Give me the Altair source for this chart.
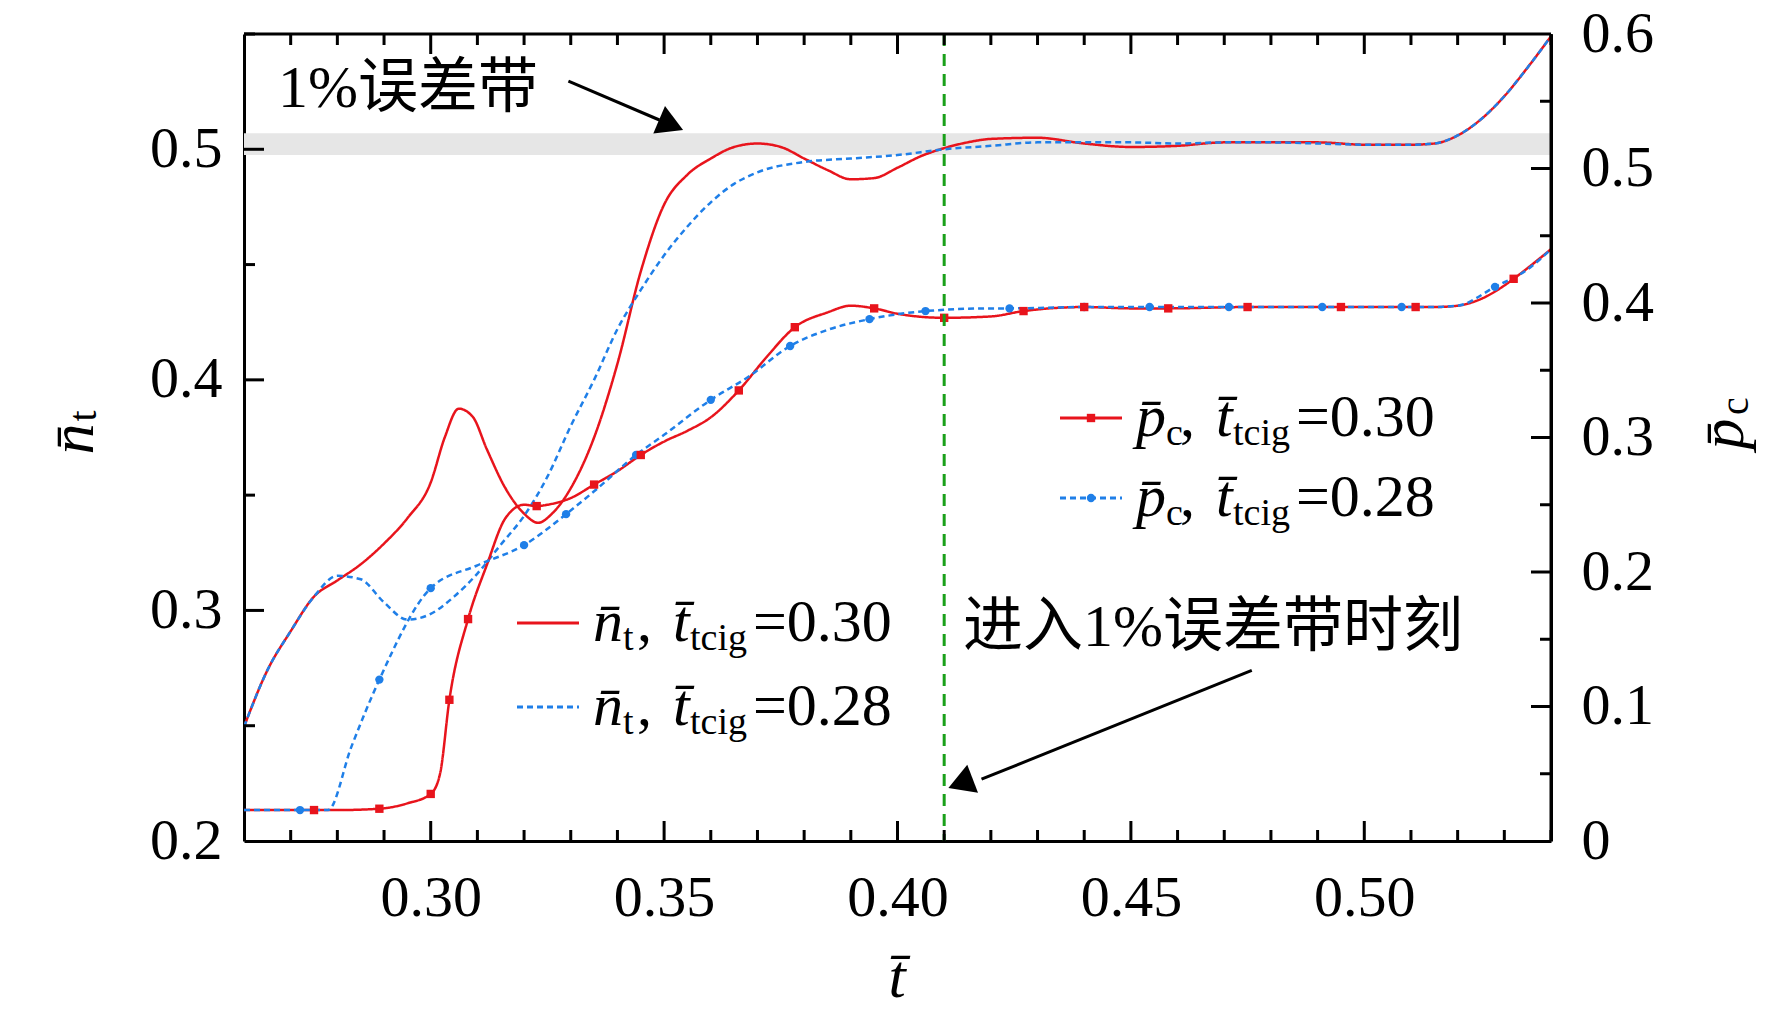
import altair as alt
import pandas as pd
import numpy as np

W, H = 1307, 807
FONT = "'Liberation Serif', 'Times New Roman', serif, 'Noto Sans CJK SC'"
RED, BLUE, GREEN = "#e8141c", "#1f7fe8", "#1aa01a"
XD = [0.26, 0.54]
LD = [0.2, 0.55]
RD = [0.0, 0.6]

# n_t curves (left axis)
nt_red_t = [0.26, 0.265, 0.27, 0.275, 0.28, 0.285, 0.29, 0.295, 0.30, 0.303, 0.306, 0.309, 0.312, 0.316,
            0.32, 0.323, 0.326, 0.33, 0.335, 0.34, 0.345, 0.35, 0.355, 0.36, 0.365, 0.37, 0.375, 0.38,
            0.385, 0.39, 0.395, 0.40, 0.405, 0.41, 0.415, 0.42, 0.43, 0.44, 0.45, 0.46, 0.47, 0.48,
            0.49, 0.50, 0.51, 0.515, 0.52, 0.525, 0.53, 0.535, 0.54]
nt_red = [0.2495, 0.274, 0.291, 0.306, 0.313, 0.32, 0.329, 0.340, 0.3555, 0.375, 0.3875, 0.384, 0.370, 0.353,
          0.342, 0.338, 0.342, 0.353, 0.375, 0.407, 0.447, 0.476, 0.489, 0.496, 0.501, 0.5025, 0.501, 0.496,
          0.491, 0.487, 0.4875, 0.492, 0.497, 0.5005, 0.503, 0.5045, 0.505, 0.5025, 0.501, 0.5015, 0.503, 0.503,
          0.503, 0.502, 0.502, 0.5025, 0.506, 0.513, 0.523, 0.5355, 0.549]
nt_blue_t = [0.26, 0.265, 0.27, 0.275, 0.28, 0.285, 0.29, 0.295, 0.30, 0.305, 0.31, 0.315, 0.32, 0.325,
             0.33, 0.335, 0.34, 0.345, 0.35, 0.355, 0.36, 0.365, 0.37, 0.38, 0.39, 0.40, 0.41, 0.42,
             0.43, 0.44, 0.45, 0.46, 0.47, 0.48, 0.49, 0.50, 0.51, 0.515, 0.52, 0.525, 0.53, 0.535, 0.54]
nt_blue = [0.2495, 0.274, 0.291, 0.306, 0.315, 0.3135, 0.3035, 0.296, 0.2985, 0.306, 0.316, 0.3285, 0.341, 0.358,
           0.380, 0.400, 0.422, 0.439, 0.454, 0.4665, 0.477, 0.485, 0.490, 0.4945, 0.496, 0.4975, 0.500, 0.5015,
           0.503, 0.503, 0.503, 0.5025, 0.503, 0.503, 0.5025, 0.502, 0.502, 0.5025, 0.506, 0.513, 0.523, 0.5355, 0.549]

# p_c curves (right axis)
pc_red_t = [0.26, 0.27, 0.275, 0.28, 0.289, 0.295, 0.30, 0.302, 0.304, 0.308, 0.312, 0.316, 0.32, 0.3227,
            0.325, 0.33, 0.335, 0.34, 0.345, 0.35, 0.355, 0.36, 0.366, 0.372, 0.378, 0.385, 0.39, 0.395,
            0.40, 0.41, 0.42, 0.427, 0.44, 0.45, 0.458, 0.475, 0.495, 0.511, 0.515, 0.52, 0.525, 0.53,
            0.532, 0.54]
pc_red = [0.023, 0.023, 0.023, 0.023, 0.024, 0.028, 0.035, 0.05, 0.105, 0.165, 0.205, 0.24, 0.25, 0.249,
          0.25, 0.255, 0.265, 0.275, 0.287, 0.297, 0.305, 0.315, 0.335, 0.36, 0.382, 0.393, 0.398, 0.396,
          0.392, 0.389, 0.390, 0.394, 0.397, 0.396, 0.396, 0.397, 0.397, 0.397, 0.397, 0.398, 0.403, 0.413,
          0.418, 0.44]
pc_blue_t = [0.26, 0.272, 0.278, 0.283, 0.289, 0.30, 0.31, 0.32, 0.329, 0.335, 0.344, 0.35, 0.36, 0.368,
             0.377, 0.385, 0.394, 0.406, 0.42, 0.424, 0.44, 0.454, 0.471, 0.491, 0.508, 0.515, 0.52,
             0.528, 0.535, 0.54]
pc_blue = [0.023, 0.023, 0.023, 0.07, 0.12, 0.188, 0.205, 0.22, 0.243, 0.26, 0.287, 0.302, 0.328, 0.345,
           0.368, 0.38, 0.388, 0.394, 0.396, 0.396, 0.397, 0.397, 0.397, 0.397, 0.397, 0.397, 0.398,
           0.412, 0.425, 0.44]
mk_red_t = [0.275, 0.289, 0.30, 0.304, 0.308, 0.3227, 0.335, 0.345, 0.366, 0.378, 0.395, 0.41, 0.427,
            0.44, 0.458, 0.475, 0.495, 0.511, 0.532]
mk_blue_t = [0.272, 0.289, 0.30, 0.32, 0.329, 0.344, 0.36, 0.377, 0.394, 0.406, 0.424, 0.44, 0.454,
             0.471, 0.491, 0.508, 0.528]

band = [0.4975, 0.507]
t_enter = 0.41

AX = dict(title=None, grid=False, tickSize=0, domainWidth=3, domainColor="black",
          labelFont=FONT, labelFontSize=58, labelColor="black")
left_axis = alt.Axis(orient="left", values=[0.2, 0.3, 0.4, 0.5], format=".1f", labelPadding=22, **AX)
right_axis = alt.Axis(orient="right", values=[0, 0.1, 0.2, 0.3, 0.4, 0.5, 0.6], labelPadding=30,
                      labelExpr="datum.value == 0 ? '0' : format(datum.value, '.1f')", **AX)
bottom_axis = alt.Axis(orient="bottom", values=[0.30, 0.35, 0.40, 0.45, 0.50], format=".2f",
                       labelPadding=28, **AX)


def yl(v, axis=None):
    return alt.Y(f"{v}:Q", scale=alt.Scale(domain=LD), axis=axis)


def yr(v, axis=None):
    return alt.Y(f"{v}:Q", scale=alt.Scale(domain=RD), axis=axis)


def xs(v):
    return alt.X(f"{v}:Q", scale=alt.Scale(domain=XD), axis=bottom_axis)


def line(t, y, color, dash, right=False, axis=None):
    df = pd.DataFrame({"t": t, "y": y})
    m = alt.Chart(df).mark_line(color=color, strokeWidth=2.5, strokeDash=dash,
                                interpolate="monotone", clip=True)
    return m.encode(x=xs("t"), y=(yr("y", axis) if right else yl("y", axis)))


def markers(t_all, y_all, tm, color, shape):
    ym = [float(np.interp(v, t_all, y_all)) for v in tm]
    df = pd.DataFrame({"t": tm, "y": ym})
    return alt.Chart(df).mark_point(shape=shape, filled=True, color=color, size=70, opacity=1).encode(
        x=xs("t"), y=yr("y"))


def txt(s, x, y, size=60, style="normal", angle=0, align="left"):
    return alt.Chart(pd.DataFrame({"a": [0]})).mark_text(
        text=s, font=FONT, fontSize=size, fontStyle=style, align=align, baseline="middle",
        angle=angle, color="black").encode(x=alt.value(x), y=alt.value(y))


def legend_label(sym, sub, val, x0, y0):
    return [txt(sym, x0, y0, style="italic"), txt(sub, x0 + 30, y0 + 16, size=38),
            txt(",", x0 + 44, y0), txt("t\u0304", x0 + 80, y0, style="italic"),
            txt("tcig", x0 + 97, y0 + 16, size=38), txt("=" + val, x0 + 160, y0)]


def prule(x, x2, y, y2, color="black", width=3, dash=(1, 0)):
    return alt.Chart(pd.DataFrame({"a": [0]})).mark_rule(color=color, strokeWidth=width, strokeDash=list(dash)).encode(
        x=alt.value(x), x2=alt.value(x2), y=alt.value(y), y2=alt.value(y2))


layers = []
layers.append(alt.Chart(pd.DataFrame({"a": [band[0]], "b": [band[1]]})).mark_rect(color="#e6e6e6").encode(
    x=alt.value(0), x2=alt.value(W), y=yl("a"), y2="b:Q"))

layers.append(line(nt_red_t, nt_red, RED, [1, 0], axis=left_axis))
layers.append(line(nt_blue_t, nt_blue, BLUE, [6, 4]))
layers.append(line(pc_red_t, pc_red, RED, [1, 0], right=True, axis=right_axis))
layers.append(line(pc_blue_t, pc_blue, BLUE, [6, 4], right=True))
layers.append(markers(pc_blue_t, pc_blue, mk_blue_t, BLUE, "circle"))
layers.append(markers(pc_red_t, pc_red, mk_red_t, RED, "square"))

layers.append(alt.Chart(pd.DataFrame({"t": [t_enter]})).mark_rule(color=GREEN, strokeWidth=3, strokeDash=[12, 8]).encode(
    x=xs("t"), y=alt.value(0), y2=alt.value(H)))

# inward ticks
xt = np.round(np.arange(0.27, 0.5401, 0.01), 3)
yt_l = np.round(np.arange(0.25, 0.551, 0.05), 3)
yt_r = np.round(np.arange(0.05, 0.551, 0.05), 3)
tdf_x = pd.DataFrame({"v": xt, "L": [20 if abs(v * 20 - round(v * 20)) < 1e-6 else 11 for v in xt]})
tdf_l = pd.DataFrame({"v": yt_l, "L": [20 if abs(v * 10 - round(v * 10)) < 1e-6 else 11 for v in yt_l]})
tdf_r = pd.DataFrame({"v": yt_r, "L": [20 if abs(v * 10 - round(v * 10)) < 1e-6 else 11 for v in yt_r]})
for L in (20, 11):
    dx = tdf_x[tdf_x.L == L]
    layers.append(alt.Chart(dx).mark_rule(color="black", strokeWidth=3).encode(
        x=xs("v"), y=alt.value(H), y2=alt.value(H - L)))
    layers.append(alt.Chart(dx).mark_rule(color="black", strokeWidth=3).encode(
        x=xs("v"), y=alt.value(0), y2=alt.value(L)))
    layers.append(alt.Chart(tdf_l[tdf_l.L == L]).mark_rule(color="black", strokeWidth=3).encode(
        y=yl("v"), x=alt.value(0), x2=alt.value(L)))
    layers.append(alt.Chart(tdf_r[tdf_r.L == L]).mark_rule(color="black", strokeWidth=3).encode(
        y=yr("v"), x=alt.value(W), x2=alt.value(W - L)))

# frame
layers.append(prule(0, W, 0, 0))
layers.append(prule(W, W, 0, H))

# arrows
arr = pd.DataFrame({"x1": [0.3295, 0.4759], "y1": [0.5296, 0.274],
                    "x2": [0.349, 0.418], "y2": [0.5127, 0.2268],
                    "hx": [0.3515, 0.4135], "hy": [0.5106, 0.2250], "ang": [113, 249]})
layers.append(alt.Chart(arr).mark_rule(color="black", strokeWidth=3).encode(
    x=xs("x1"), x2="x2:Q", y=yl("y1"), y2="y2:Q"))
layers.append(alt.Chart(arr).mark_point(shape="triangle-up", filled=True, color="black", size=900, opacity=1).encode(
    x=xs("hx"), y=yl("hy"), angle=alt.Angle("ang:Q", scale=None)))

# annotations
layers.append(txt("1%误差带", 34, 55, size=60))
layers.append(txt("进入1%误差带时刻", 719, 594, size=60))

# legends
layers.append(prule(273, 335, 589, 589, RED))
layers.append(prule(273, 335, 673, 673, BLUE, dash=(6, 4)))
layers += legend_label("n\u0304", "t", "0.30", 349, 589)
layers += legend_label("n\u0304", "t", "0.28", 349, 673)
layers.append(prule(816, 878, 384, 384, RED))
layers.append(prule(816, 878, 464, 464, BLUE, dash=(6, 4)))
layers.append(alt.Chart(pd.DataFrame({"a": [0]})).mark_point(shape="square", filled=True, color=RED, size=70, opacity=1).encode(
    x=alt.value(847), y=alt.value(384)))
layers.append(alt.Chart(pd.DataFrame({"a": [0]})).mark_point(shape="circle", filled=True, color=BLUE, size=70, opacity=1).encode(
    x=alt.value(847), y=alt.value(464)))
layers += legend_label("p\u0304", "c", "0.30", 892, 384)
layers += legend_label("p\u0304", "c", "0.28", 892, 464)

# axis titles
layers.append(txt("n\u0304", -170, 405, size=62, style="italic", angle=270, align="center"))
layers.append(txt("t", -160, 382, size=40, angle=270, align="center"))
layers.append(txt("p\u0304", 1480, 400, size=62, style="italic", angle=270, align="center"))
layers.append(txt("c", 1492, 372, size=40, angle=270, align="center"))
layers.append(txt("t\u0304", 653, 944, size=62, style="italic", align="center"))

chart = alt.layer(*layers).resolve_scale(y="independent").properties(
    width=W, height=H, autosize="none",
    padding={"left": 236, "top": 26, "right": 213, "bottom": 170}
).configure_view(stroke=None).configure(background="white")

chart.save("out.html", embed_options={"renderer": "svg", "actions": False})
